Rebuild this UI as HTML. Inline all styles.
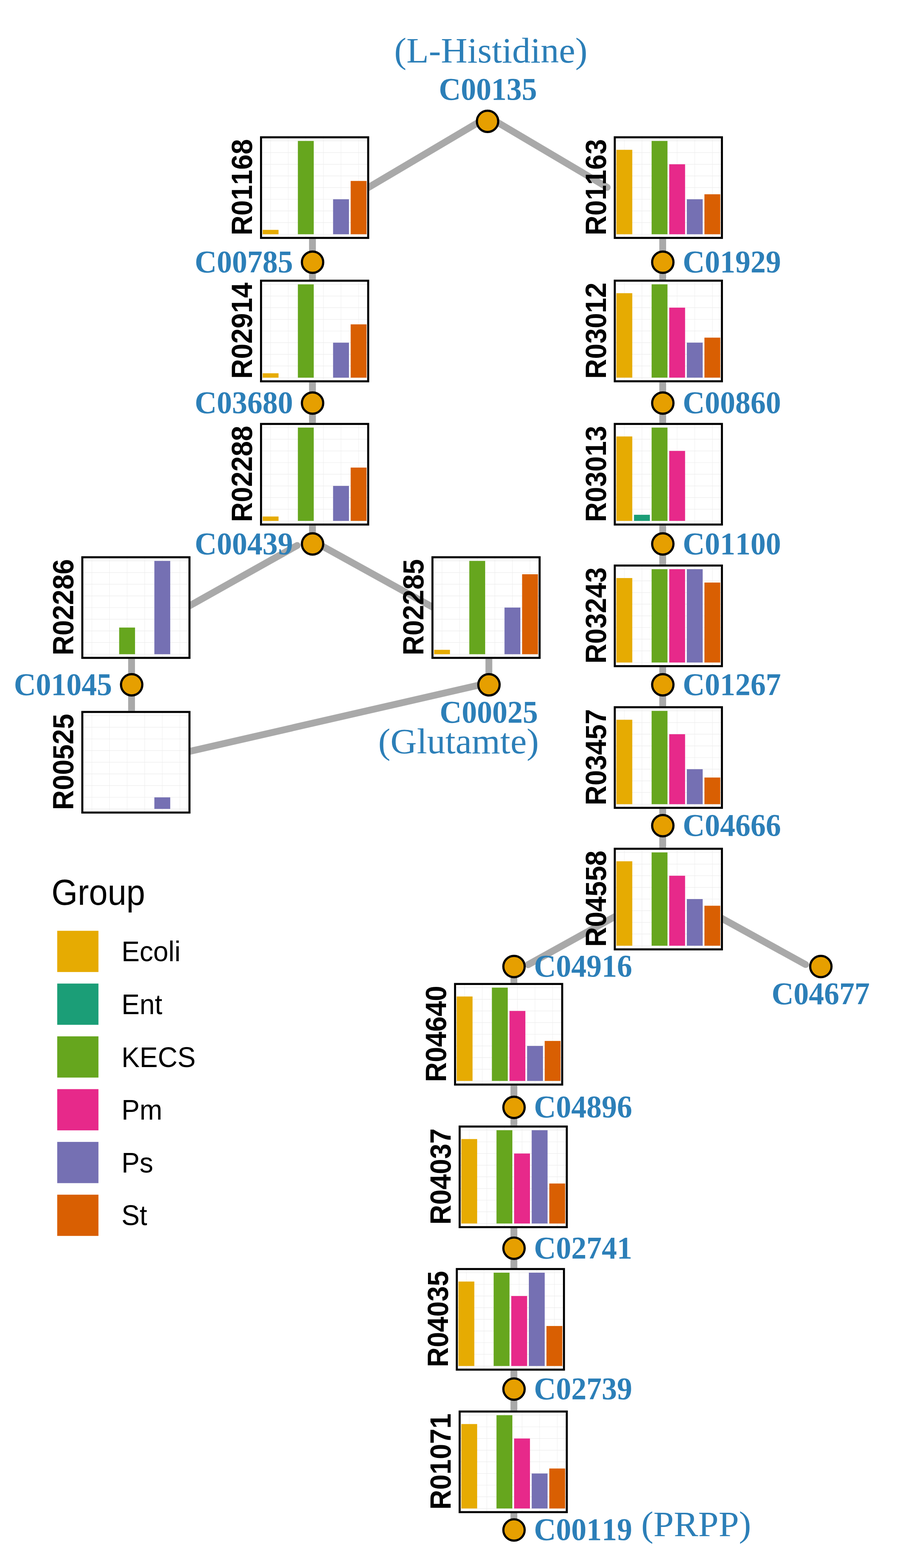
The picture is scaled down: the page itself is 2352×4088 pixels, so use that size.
<!DOCTYPE html>
<html lang="en"><head><meta charset="utf-8"><title>Histidine metabolism pathway</title>
<style>html,body{margin:0;padding:0;background:#fff}body{width:2352px;height:4088px;overflow:hidden}svg{display:block}text{font-kerning:none;font-variant-ligatures:none}.c{font-family:'Liberation Serif','DejaVu Serif',serif;font-weight:bold;font-size:79.5px;fill:#2C7FB8}.n{font-family:'Liberation Serif','DejaVu Serif',serif;font-size:95.5px;fill:#2C7FB8}.r{font-family:'Liberation Sans','DejaVu Sans',sans-serif;font-weight:bold;font-size:73.3px;fill:#000}.lt{font-family:'Liberation Sans','DejaVu Sans',sans-serif;font-size:91.67px;fill:#000}.ll{font-family:'Liberation Sans','DejaVu Sans',sans-serif;font-size:73.33px;fill:#000}</style></head><body>
<svg width="2352" height="4088" viewBox="0 0 2352 4088" role="img" aria-label="Histidine metabolism pathway with per-group bar charts">
<rect width="2352" height="4088" fill="#fff"/>
<g stroke="#A9A9A9" stroke-width="17.8" stroke-linecap="round" fill="none">
<line x1="814.75" y1="489" x2="814.75" y2="1418.12"/>
<line x1="1728.05" y1="489" x2="1728.05" y2="2340"/>
<line x1="343.05" y1="1600" x2="343.05" y2="1980"/>
<line x1="1274.75" y1="1600" x2="1274.75" y2="1785.36"/>
<line x1="1340.05" y1="2519.84" x2="1340.05" y2="3988.8"/>
<line x1="950" y1="495.15" x2="1266.2" y2="307.99"/>
<line x1="1276.7" y1="306.9" x2="1583.3" y2="488.38"/>
<line x1="480" y1="1587.41" x2="774.8" y2="1422.14"/>
<line x1="818.5" y1="1411.69" x2="1140" y2="1589.48"/>
<line x1="480" y1="1962.3" x2="1273.6" y2="1780.57"/>
<line x1="1377" y1="2515.12" x2="1615" y2="2383.17"/>
<line x1="1870" y1="2387.65" x2="2100.7" y2="2514.7"/>
</g>
<g fill="#E69F00" stroke="#000" stroke-width="5.7">
<circle cx="1271.3" cy="316.4" r="27.8"/>
<circle cx="815" cy="683.64" r="27.8"/>
<circle cx="815" cy="1050.88" r="27.8"/>
<circle cx="815" cy="1418.12" r="27.8"/>
<circle cx="343.3" cy="1785.36" r="27.8"/>
<circle cx="1275" cy="1785.36" r="27.8"/>
<circle cx="1728.3" cy="683.64" r="27.8"/>
<circle cx="1728.3" cy="1050.88" r="27.8"/>
<circle cx="1728.3" cy="1418.12" r="27.8"/>
<circle cx="1728.3" cy="1785.36" r="27.8"/>
<circle cx="1728.3" cy="2152.6" r="27.8"/>
<circle cx="1340.3" cy="2519.84" r="27.8"/>
<circle cx="2140.4" cy="2519.84" r="27.8"/>
<circle cx="1340.3" cy="2887.08" r="27.8"/>
<circle cx="1340.3" cy="3254.32" r="27.8"/>
<circle cx="1340.3" cy="3621.56" r="27.8"/>
<circle cx="1340.3" cy="3988.8" r="27.8"/>
</g>
<g class="c">
<text transform="translate(764,710.04) scale(1,1.035)" text-anchor="end">C00785</text>
<text transform="translate(764,1077.28) scale(1,1.035)" text-anchor="end">C03680</text>
<text transform="translate(764,1444.52) scale(1,1.035)" text-anchor="end">C00439</text>
<text transform="translate(292.3,1811.76) scale(1,1.035)" text-anchor="end">C01045</text>
<text transform="translate(1780.3,710.04) scale(1,1.035)" text-anchor="start">C01929</text>
<text transform="translate(1780.3,1077.28) scale(1,1.035)" text-anchor="start">C00860</text>
<text transform="translate(1780.3,1444.52) scale(1,1.035)" text-anchor="start">C01100</text>
<text transform="translate(1780.3,1811.76) scale(1,1.035)" text-anchor="start">C01267</text>
<text transform="translate(1780.3,2179) scale(1,1.035)" text-anchor="start">C04666</text>
<text transform="translate(1392.3,2546.24) scale(1,1.035)" text-anchor="start">C04916</text>
<text transform="translate(1392.3,2913.48) scale(1,1.035)" text-anchor="start">C04896</text>
<text transform="translate(1392.3,3280.72) scale(1,1.035)" text-anchor="start">C02741</text>
<text transform="translate(1392.3,3647.96) scale(1,1.035)" text-anchor="start">C02739</text>
<text transform="translate(1392.3,4015.2) scale(1,1.035)" text-anchor="start">C00119</text>
<text transform="translate(1272.3,259.5) scale(1,1.035)" text-anchor="middle">C00135</text>
<text transform="translate(1274.6,1884.2) scale(1,1.035)" text-anchor="middle">C00025</text>
<text transform="translate(2140,2618) scale(1,1.035)" text-anchor="middle">C04677</text>
</g>
<g class="n">
<text transform="translate(1279.8,163.1) scale(1,0.97)" text-anchor="middle">(L-Histidine)</text>
<text transform="translate(1195.6,1964.2) scale(1,0.97)" text-anchor="middle">(Glutamte)</text>
<text transform="translate(1672,4004.8) scale(1,0.97)" text-anchor="start">(PRPP)</text>
</g>
<g transform="translate(678,355.3)">
<rect width="284.7" height="267.6" fill="#fff"/>
<path d="M0 255.43H284.7M0 225.02H284.7M0 194.62H284.7M0 164.21H284.7M0 133.8H284.7M0 103.39H284.7M0 72.99H284.7M0 42.58H284.7M0 12.17H284.7" stroke="#EBEBEB" stroke-width="1.2" fill="none"/>
<path d="M27.6 0V267.6M73.5 0V267.6M119.4 0V267.6M165.3 0V267.6M211.2 0V267.6M257.1 0V267.6" stroke="#EBEBEB" stroke-width="0.9" fill="none"/>
<rect x="6.9" y="244" width="41.4" height="11.43" fill="#E6AB02"/>
<rect x="98.7" y="12.17" width="41.4" height="243.26" fill="#66A61E"/>
<rect x="190.5" y="164.21" width="41.4" height="91.22" fill="#7570B3"/>
<rect x="236.4" y="116.43" width="41.4" height="139" fill="#D95F02"/>
<rect x="2.65" y="2.65" width="279.4" height="262.3" fill="none" stroke="#000" stroke-width="5.3"/>
<text class="r" text-anchor="middle" transform="translate(-20.7,132.9) rotate(-90) scale(0.977,1.04)">R01168</text>
</g>
<g transform="translate(678,729.2)">
<rect width="284.7" height="267.6" fill="#fff"/>
<path d="M0 255.43H284.7M0 225.02H284.7M0 194.62H284.7M0 164.21H284.7M0 133.8H284.7M0 103.39H284.7M0 72.99H284.7M0 42.58H284.7M0 12.17H284.7" stroke="#EBEBEB" stroke-width="1.2" fill="none"/>
<path d="M27.6 0V267.6M73.5 0V267.6M119.4 0V267.6M165.3 0V267.6M211.2 0V267.6M257.1 0V267.6" stroke="#EBEBEB" stroke-width="0.9" fill="none"/>
<rect x="6.9" y="244" width="41.4" height="11.43" fill="#E6AB02"/>
<rect x="98.7" y="12.17" width="41.4" height="243.26" fill="#66A61E"/>
<rect x="190.5" y="164.21" width="41.4" height="91.22" fill="#7570B3"/>
<rect x="236.4" y="116.43" width="41.4" height="139" fill="#D95F02"/>
<rect x="2.65" y="2.65" width="279.4" height="262.3" fill="none" stroke="#000" stroke-width="5.3"/>
<text class="r" text-anchor="middle" transform="translate(-20.7,132.9) rotate(-90) scale(0.977,1.04)">R02914</text>
</g>
<g transform="translate(678,1102.6)">
<rect width="284.7" height="267.6" fill="#fff"/>
<path d="M0 255.43H284.7M0 225.02H284.7M0 194.62H284.7M0 164.21H284.7M0 133.8H284.7M0 103.39H284.7M0 72.99H284.7M0 42.58H284.7M0 12.17H284.7" stroke="#EBEBEB" stroke-width="1.2" fill="none"/>
<path d="M27.6 0V267.6M73.5 0V267.6M119.4 0V267.6M165.3 0V267.6M211.2 0V267.6M257.1 0V267.6" stroke="#EBEBEB" stroke-width="0.9" fill="none"/>
<rect x="6.9" y="244" width="41.4" height="11.43" fill="#E6AB02"/>
<rect x="98.7" y="12.17" width="41.4" height="243.26" fill="#66A61E"/>
<rect x="190.5" y="164.21" width="41.4" height="91.22" fill="#7570B3"/>
<rect x="236.4" y="116.43" width="41.4" height="139" fill="#D95F02"/>
<rect x="2.65" y="2.65" width="279.4" height="262.3" fill="none" stroke="#000" stroke-width="5.3"/>
<text class="r" text-anchor="middle" transform="translate(-20.7,132.9) rotate(-90) scale(0.977,1.04)">R02288</text>
</g>
<g transform="translate(212,1450.2)">
<rect width="284.7" height="267.6" fill="#fff"/>
<path d="M0 255.43H284.7M0 225.02H284.7M0 194.62H284.7M0 164.21H284.7M0 133.8H284.7M0 103.39H284.7M0 72.99H284.7M0 42.58H284.7M0 12.17H284.7" stroke="#EBEBEB" stroke-width="1.2" fill="none"/>
<path d="M27.6 0V267.6M73.5 0V267.6M119.4 0V267.6M165.3 0V267.6M211.2 0V267.6M257.1 0V267.6" stroke="#EBEBEB" stroke-width="0.9" fill="none"/>
<rect x="98.7" y="185.93" width="41.4" height="69.5" fill="#66A61E"/>
<rect x="190.5" y="12.17" width="41.4" height="243.26" fill="#7570B3"/>
<rect x="2.65" y="2.65" width="279.4" height="262.3" fill="none" stroke="#000" stroke-width="5.3"/>
<text class="r" text-anchor="middle" transform="translate(-20.7,132.9) rotate(-90) scale(0.977,1.04)">R02286</text>
</g>
<g transform="translate(1125,1450.2)">
<rect width="284.7" height="267.6" fill="#fff"/>
<path d="M0 255.43H284.7M0 225.02H284.7M0 194.62H284.7M0 164.21H284.7M0 133.8H284.7M0 103.39H284.7M0 72.99H284.7M0 42.58H284.7M0 12.17H284.7" stroke="#EBEBEB" stroke-width="1.2" fill="none"/>
<path d="M27.6 0V267.6M73.5 0V267.6M119.4 0V267.6M165.3 0V267.6M211.2 0V267.6M257.1 0V267.6" stroke="#EBEBEB" stroke-width="0.9" fill="none"/>
<rect x="6.9" y="244" width="41.4" height="11.43" fill="#E6AB02"/>
<rect x="98.7" y="12.17" width="41.4" height="243.26" fill="#66A61E"/>
<rect x="190.5" y="133.8" width="41.4" height="121.63" fill="#7570B3"/>
<rect x="236.4" y="46.96" width="41.4" height="208.47" fill="#D95F02"/>
<rect x="2.65" y="2.65" width="279.4" height="262.3" fill="none" stroke="#000" stroke-width="5.3"/>
<text class="r" text-anchor="middle" transform="translate(-20.7,132.9) rotate(-90) scale(0.977,1.04)">R02285</text>
</g>
<g transform="translate(212,1853.5)">
<rect width="284.7" height="267.6" fill="#fff"/>
<path d="M0 255.43H284.7M0 225.02H284.7M0 194.62H284.7M0 164.21H284.7M0 133.8H284.7M0 103.39H284.7M0 72.99H284.7M0 42.58H284.7M0 12.17H284.7" stroke="#EBEBEB" stroke-width="1.2" fill="none"/>
<path d="M27.6 0V267.6M73.5 0V267.6M119.4 0V267.6M165.3 0V267.6M211.2 0V267.6M257.1 0V267.6" stroke="#EBEBEB" stroke-width="0.9" fill="none"/>
<rect x="190.5" y="225.39" width="41.4" height="30.04" fill="#7570B3"/>
<rect x="2.65" y="2.65" width="279.4" height="262.3" fill="none" stroke="#000" stroke-width="5.3"/>
<text class="r" text-anchor="middle" transform="translate(-20.7,132.9) rotate(-90) scale(0.977,1.04)">R00525</text>
</g>
<g transform="translate(1600.4,355.3)">
<rect width="284.7" height="267.6" fill="#fff"/>
<path d="M0 255.43H284.7M0 225.02H284.7M0 194.62H284.7M0 164.21H284.7M0 133.8H284.7M0 103.39H284.7M0 72.99H284.7M0 42.58H284.7M0 12.17H284.7" stroke="#EBEBEB" stroke-width="1.2" fill="none"/>
<path d="M27.6 0V267.6M73.5 0V267.6M119.4 0V267.6M165.3 0V267.6M211.2 0V267.6M257.1 0V267.6" stroke="#EBEBEB" stroke-width="0.9" fill="none"/>
<rect x="6.9" y="35.28" width="41.4" height="220.15" fill="#E6AB02"/>
<rect x="98.7" y="12.17" width="41.4" height="243.26" fill="#66A61E"/>
<rect x="144.6" y="72.99" width="41.4" height="182.45" fill="#E7298A"/>
<rect x="190.5" y="164.21" width="41.4" height="91.22" fill="#7570B3"/>
<rect x="236.4" y="151.17" width="41.4" height="104.26" fill="#D95F02"/>
<rect x="2.65" y="2.65" width="279.4" height="262.3" fill="none" stroke="#000" stroke-width="5.3"/>
<text class="r" text-anchor="middle" transform="translate(-20.7,132.9) rotate(-90) scale(0.977,1.04)">R01163</text>
</g>
<g transform="translate(1600.4,729.1)">
<rect width="284.7" height="267.6" fill="#fff"/>
<path d="M0 255.43H284.7M0 225.02H284.7M0 194.62H284.7M0 164.21H284.7M0 133.8H284.7M0 103.39H284.7M0 72.99H284.7M0 42.58H284.7M0 12.17H284.7" stroke="#EBEBEB" stroke-width="1.2" fill="none"/>
<path d="M27.6 0V267.6M73.5 0V267.6M119.4 0V267.6M165.3 0V267.6M211.2 0V267.6M257.1 0V267.6" stroke="#EBEBEB" stroke-width="0.9" fill="none"/>
<rect x="6.9" y="35.28" width="41.4" height="220.15" fill="#E6AB02"/>
<rect x="98.7" y="12.17" width="41.4" height="243.26" fill="#66A61E"/>
<rect x="144.6" y="72.99" width="41.4" height="182.45" fill="#E7298A"/>
<rect x="190.5" y="164.21" width="41.4" height="91.22" fill="#7570B3"/>
<rect x="236.4" y="151.17" width="41.4" height="104.26" fill="#D95F02"/>
<rect x="2.65" y="2.65" width="279.4" height="262.3" fill="none" stroke="#000" stroke-width="5.3"/>
<text class="r" text-anchor="middle" transform="translate(-20.7,132.9) rotate(-90) scale(0.977,1.04)">R03012</text>
</g>
<g transform="translate(1600.4,1102.6)">
<rect width="284.7" height="267.6" fill="#fff"/>
<path d="M0 255.43H284.7M0 225.02H284.7M0 194.62H284.7M0 164.21H284.7M0 133.8H284.7M0 103.39H284.7M0 72.99H284.7M0 42.58H284.7M0 12.17H284.7" stroke="#EBEBEB" stroke-width="1.2" fill="none"/>
<path d="M27.6 0V267.6M73.5 0V267.6M119.4 0V267.6M165.3 0V267.6M211.2 0V267.6M257.1 0V267.6" stroke="#EBEBEB" stroke-width="0.9" fill="none"/>
<rect x="6.9" y="35.28" width="41.4" height="220.15" fill="#E6AB02"/>
<rect x="52.8" y="239.5" width="41.4" height="15.93" fill="#1B9E77"/>
<rect x="98.7" y="12.17" width="41.4" height="243.26" fill="#66A61E"/>
<rect x="144.6" y="72.99" width="41.4" height="182.45" fill="#E7298A"/>
<rect x="2.65" y="2.65" width="279.4" height="262.3" fill="none" stroke="#000" stroke-width="5.3"/>
<text class="r" text-anchor="middle" transform="translate(-20.7,132.9) rotate(-90) scale(0.977,1.04)">R03013</text>
</g>
<g transform="translate(1600.4,1471.8)">
<rect width="284.7" height="267.6" fill="#fff"/>
<path d="M0 255.43H284.7M0 225.02H284.7M0 194.62H284.7M0 164.21H284.7M0 133.8H284.7M0 103.39H284.7M0 72.99H284.7M0 42.58H284.7M0 12.17H284.7" stroke="#EBEBEB" stroke-width="1.2" fill="none"/>
<path d="M27.6 0V267.6M73.5 0V267.6M119.4 0V267.6M165.3 0V267.6M211.2 0V267.6M257.1 0V267.6" stroke="#EBEBEB" stroke-width="0.9" fill="none"/>
<rect x="6.9" y="35.28" width="41.4" height="220.15" fill="#E6AB02"/>
<rect x="98.7" y="12.17" width="41.4" height="243.26" fill="#66A61E"/>
<rect x="144.6" y="12.17" width="41.4" height="243.26" fill="#E7298A"/>
<rect x="190.5" y="12.17" width="41.4" height="243.26" fill="#7570B3"/>
<rect x="236.4" y="46.96" width="41.4" height="208.47" fill="#D95F02"/>
<rect x="2.65" y="2.65" width="279.4" height="262.3" fill="none" stroke="#000" stroke-width="5.3"/>
<text class="r" text-anchor="middle" transform="translate(-20.7,132.9) rotate(-90) scale(0.977,1.04)">R03243</text>
</g>
<g transform="translate(1600.4,1841.2)">
<rect width="284.7" height="267.6" fill="#fff"/>
<path d="M0 255.43H284.7M0 225.02H284.7M0 194.62H284.7M0 164.21H284.7M0 133.8H284.7M0 103.39H284.7M0 72.99H284.7M0 42.58H284.7M0 12.17H284.7" stroke="#EBEBEB" stroke-width="1.2" fill="none"/>
<path d="M27.6 0V267.6M73.5 0V267.6M119.4 0V267.6M165.3 0V267.6M211.2 0V267.6M257.1 0V267.6" stroke="#EBEBEB" stroke-width="0.9" fill="none"/>
<rect x="6.9" y="35.28" width="41.4" height="220.15" fill="#E6AB02"/>
<rect x="98.7" y="12.17" width="41.4" height="243.26" fill="#66A61E"/>
<rect x="144.6" y="72.99" width="41.4" height="182.45" fill="#E7298A"/>
<rect x="190.5" y="164.21" width="41.4" height="91.22" fill="#7570B3"/>
<rect x="236.4" y="185.93" width="41.4" height="69.5" fill="#D95F02"/>
<rect x="2.65" y="2.65" width="279.4" height="262.3" fill="none" stroke="#000" stroke-width="5.3"/>
<text class="r" text-anchor="middle" transform="translate(-20.7,132.9) rotate(-90) scale(0.977,1.04)">R03457</text>
</g>
<g transform="translate(1600.4,2210.2)">
<rect width="284.7" height="267.6" fill="#fff"/>
<path d="M0 255.43H284.7M0 225.02H284.7M0 194.62H284.7M0 164.21H284.7M0 133.8H284.7M0 103.39H284.7M0 72.99H284.7M0 42.58H284.7M0 12.17H284.7" stroke="#EBEBEB" stroke-width="1.2" fill="none"/>
<path d="M27.6 0V267.6M73.5 0V267.6M119.4 0V267.6M165.3 0V267.6M211.2 0V267.6M257.1 0V267.6" stroke="#EBEBEB" stroke-width="0.9" fill="none"/>
<rect x="6.9" y="35.28" width="41.4" height="220.15" fill="#E6AB02"/>
<rect x="98.7" y="12.17" width="41.4" height="243.26" fill="#66A61E"/>
<rect x="144.6" y="72.99" width="41.4" height="182.45" fill="#E7298A"/>
<rect x="190.5" y="133.8" width="41.4" height="121.63" fill="#7570B3"/>
<rect x="236.4" y="151.17" width="41.4" height="104.26" fill="#D95F02"/>
<rect x="2.65" y="2.65" width="279.4" height="262.3" fill="none" stroke="#000" stroke-width="5.3"/>
<text class="r" text-anchor="middle" transform="translate(-20.7,132.9) rotate(-90) scale(0.977,1.04)">R04558</text>
</g>
<g transform="translate(1183.9,2562.7)">
<rect width="284.7" height="267.6" fill="#fff"/>
<path d="M0 255.43H284.7M0 225.02H284.7M0 194.62H284.7M0 164.21H284.7M0 133.8H284.7M0 103.39H284.7M0 72.99H284.7M0 42.58H284.7M0 12.17H284.7" stroke="#EBEBEB" stroke-width="1.2" fill="none"/>
<path d="M27.6 0V267.6M73.5 0V267.6M119.4 0V267.6M165.3 0V267.6M211.2 0V267.6M257.1 0V267.6" stroke="#EBEBEB" stroke-width="0.9" fill="none"/>
<rect x="6.9" y="35.28" width="41.4" height="220.15" fill="#E6AB02"/>
<rect x="98.7" y="12.17" width="41.4" height="243.26" fill="#66A61E"/>
<rect x="144.6" y="72.99" width="41.4" height="182.45" fill="#E7298A"/>
<rect x="190.5" y="164.21" width="41.4" height="91.22" fill="#7570B3"/>
<rect x="236.4" y="151.17" width="41.4" height="104.26" fill="#D95F02"/>
<rect x="2.65" y="2.65" width="279.4" height="262.3" fill="none" stroke="#000" stroke-width="5.3"/>
<text class="r" text-anchor="middle" transform="translate(-20.7,132.9) rotate(-90) scale(0.977,1.04)">R04640</text>
</g>
<g transform="translate(1195.9,2934.4)">
<rect width="284.7" height="267.6" fill="#fff"/>
<path d="M0 255.43H284.7M0 225.02H284.7M0 194.62H284.7M0 164.21H284.7M0 133.8H284.7M0 103.39H284.7M0 72.99H284.7M0 42.58H284.7M0 12.17H284.7" stroke="#EBEBEB" stroke-width="1.2" fill="none"/>
<path d="M27.6 0V267.6M73.5 0V267.6M119.4 0V267.6M165.3 0V267.6M211.2 0V267.6M257.1 0V267.6" stroke="#EBEBEB" stroke-width="0.9" fill="none"/>
<rect x="6.9" y="35.28" width="41.4" height="220.15" fill="#E6AB02"/>
<rect x="98.7" y="12.17" width="41.4" height="243.26" fill="#66A61E"/>
<rect x="144.6" y="72.99" width="41.4" height="182.45" fill="#E7298A"/>
<rect x="190.5" y="12.17" width="41.4" height="243.26" fill="#7570B3"/>
<rect x="236.4" y="151.17" width="41.4" height="104.26" fill="#D95F02"/>
<rect x="2.65" y="2.65" width="279.4" height="262.3" fill="none" stroke="#000" stroke-width="5.3"/>
<text class="r" text-anchor="middle" transform="translate(-20.7,132.9) rotate(-90) scale(0.977,1.04)">R04037</text>
</g>
<g transform="translate(1188.5,3305.9)">
<rect width="284.7" height="267.6" fill="#fff"/>
<path d="M0 255.43H284.7M0 225.02H284.7M0 194.62H284.7M0 164.21H284.7M0 133.8H284.7M0 103.39H284.7M0 72.99H284.7M0 42.58H284.7M0 12.17H284.7" stroke="#EBEBEB" stroke-width="1.2" fill="none"/>
<path d="M27.6 0V267.6M73.5 0V267.6M119.4 0V267.6M165.3 0V267.6M211.2 0V267.6M257.1 0V267.6" stroke="#EBEBEB" stroke-width="0.9" fill="none"/>
<rect x="6.9" y="35.28" width="41.4" height="220.15" fill="#E6AB02"/>
<rect x="98.7" y="12.17" width="41.4" height="243.26" fill="#66A61E"/>
<rect x="144.6" y="72.99" width="41.4" height="182.45" fill="#E7298A"/>
<rect x="190.5" y="12.17" width="41.4" height="243.26" fill="#7570B3"/>
<rect x="236.4" y="151.17" width="41.4" height="104.26" fill="#D95F02"/>
<rect x="2.65" y="2.65" width="279.4" height="262.3" fill="none" stroke="#000" stroke-width="5.3"/>
<text class="r" text-anchor="middle" transform="translate(-20.7,132.9) rotate(-90) scale(0.977,1.04)">R04035</text>
</g>
<g transform="translate(1195.9,3677.4)">
<rect width="284.7" height="267.6" fill="#fff"/>
<path d="M0 255.43H284.7M0 225.02H284.7M0 194.62H284.7M0 164.21H284.7M0 133.8H284.7M0 103.39H284.7M0 72.99H284.7M0 42.58H284.7M0 12.17H284.7" stroke="#EBEBEB" stroke-width="1.2" fill="none"/>
<path d="M27.6 0V267.6M73.5 0V267.6M119.4 0V267.6M165.3 0V267.6M211.2 0V267.6M257.1 0V267.6" stroke="#EBEBEB" stroke-width="0.9" fill="none"/>
<rect x="6.9" y="35.28" width="41.4" height="220.15" fill="#E6AB02"/>
<rect x="98.7" y="12.17" width="41.4" height="243.26" fill="#66A61E"/>
<rect x="144.6" y="72.99" width="41.4" height="182.45" fill="#E7298A"/>
<rect x="190.5" y="164.21" width="41.4" height="91.22" fill="#7570B3"/>
<rect x="236.4" y="151.17" width="41.4" height="104.26" fill="#D95F02"/>
<rect x="2.65" y="2.65" width="279.4" height="262.3" fill="none" stroke="#000" stroke-width="5.3"/>
<text class="r" text-anchor="middle" transform="translate(-20.7,132.9) rotate(-90) scale(0.977,1.04)">R01071</text>
</g>
<text class="lt" transform="translate(134.2,2358.5) scale(0.959,1.024)">Group</text>
<rect x="149.2" y="2426.7" width="107.5" height="107.5" fill="#E6AB02"/>
<text class="ll" transform="translate(316.7,2506.3) scale(0.969,1.0225)">Ecoli</text>
<rect x="149.2" y="2564.3" width="107.5" height="107.5" fill="#1B9E77"/>
<text class="ll" transform="translate(316.7,2643.9) scale(0.969,1.0225)">Ent</text>
<rect x="149.2" y="2701.9" width="107.5" height="107.5" fill="#66A61E"/>
<text class="ll" transform="translate(316.7,2781.5) scale(0.969,1.0225)">KECS</text>
<rect x="149.2" y="2839.5" width="107.5" height="107.5" fill="#E7298A"/>
<text class="ll" transform="translate(316.7,2919.1) scale(0.969,1.0225)">Pm</text>
<rect x="149.2" y="2977.1" width="107.5" height="107.5" fill="#7570B3"/>
<text class="ll" transform="translate(316.7,3056.7) scale(0.969,1.0225)">Ps</text>
<rect x="149.2" y="3114.7" width="107.5" height="107.5" fill="#D95F02"/>
<text class="ll" transform="translate(316.7,3194.3) scale(0.969,1.0225)">St</text>
</svg></body></html>
